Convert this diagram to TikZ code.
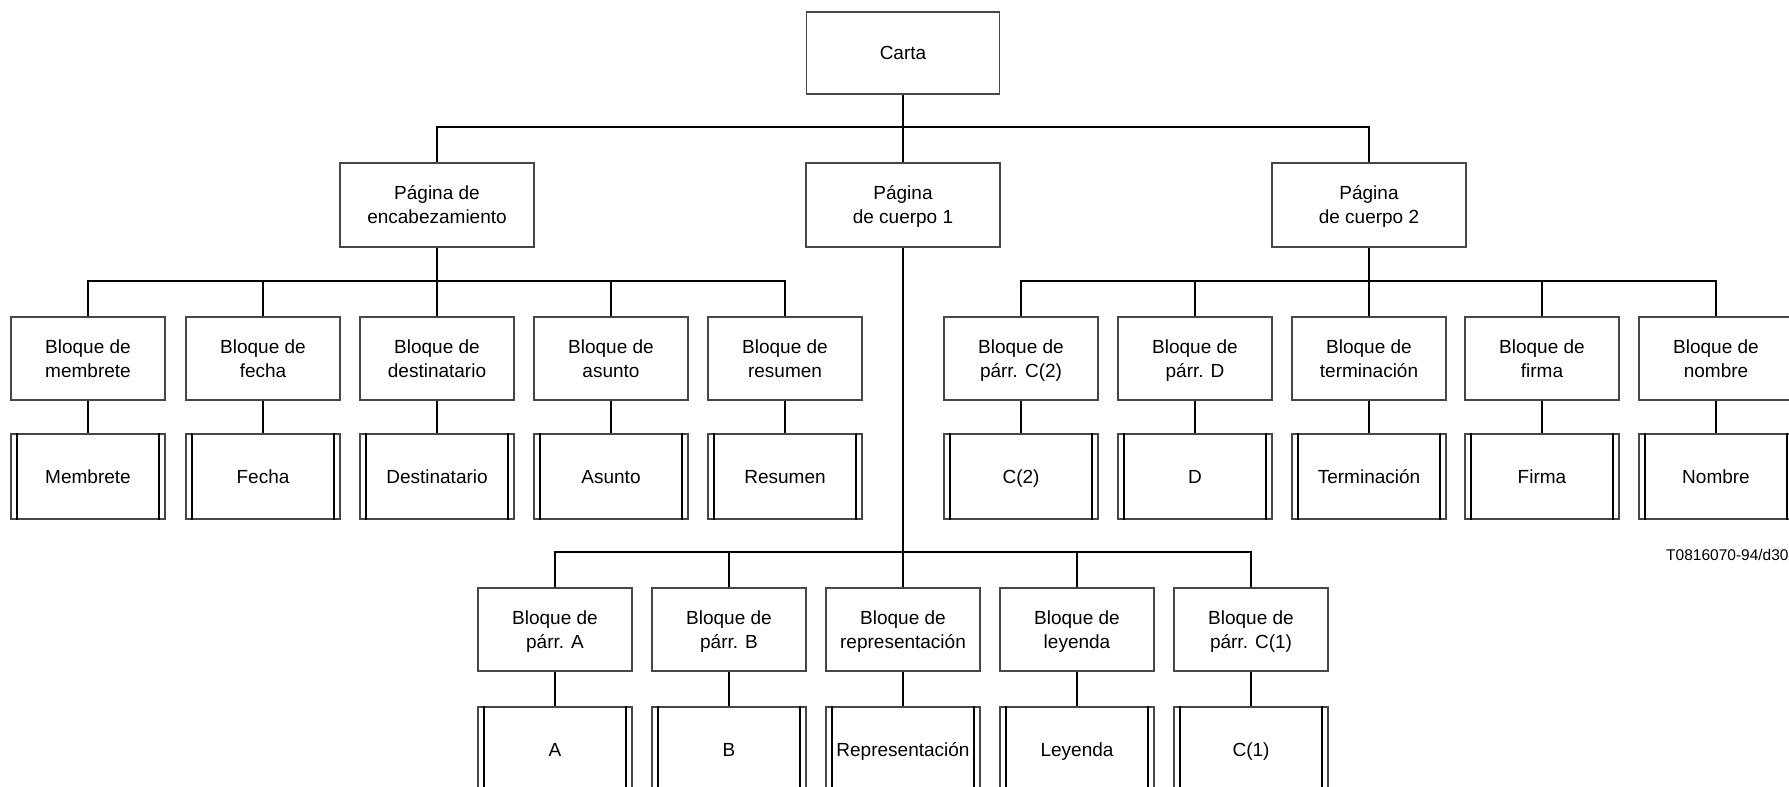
\documentclass[tikz,border=0pt]{standalone}
\usepackage{fontspec}
\setmainfont{Liberation Sans}
\begin{document}
\begin{tikzpicture}[x=1pt,y=-1pt,
  every node/.style={font=\fontsize{19}{24}\selectfont, align=center, inner sep=0pt},
  frame/.style={draw=black!72, line width=1.1pt, minimum width=154pt},
  blk/.style={frame, minimum height=83pt, text depth=-5pt},
  pagebox/.style={frame, minimum width=194pt, minimum height=84pt, text depth=-2pt},
  rootbox/.style={frame, minimum width=193pt, minimum height=82pt, text height=13.6pt, text depth=0pt},
  leafbox/.style={frame, minimum height=85pt, text height=13.6pt, text depth=-3pt},
  conn/.style={line width=2pt, black},
  rule/.style={line width=2pt, black}]
\useasboundingbox (0,0) rectangle (1789,787);
\clip (0,0) rectangle (1789,787);

% root and pages
\node[rootbox] (carta) at (903,53) {Carta};
\node[pagebox] (enc) at (437,205) {Página de\\encabezamiento};
\node[pagebox] (cp1) at (903,205) {Página\\de cuerpo 1};
\node[pagebox] (cp2) at (1369,205) {Página\\de cuerpo 2};

% blocks of the heading page
\node[blk] (bmem) at (88,358.5)  {Bloque de\\membrete};
\node[blk] (bfec) at (263,358.5) {Bloque de\\fecha};
\node[blk] (bdes) at (437,358.5) {Bloque de\\destinatario};
\node[blk] (basu) at (611,358.5) {Bloque de\\asunto};
\node[blk] (bres) at (785,358.5) {Bloque de\\resumen};

% blocks of body page 2
\node[blk] (bc2)  at (1021,358.5) {Bloque de\\párr. C(2)};
\node[blk] (bd)   at (1195,358.5) {Bloque de\\párr. D};
\node[blk] (bter) at (1369,358.5) {Bloque de\\terminación};
\node[blk] (bfir) at (1542,358.5) {Bloque de\\firma};
\node[blk] (bnom) at (1716,358.5) {Bloque de\\nombre};

% blocks of body page 1
\node[blk] (ba)   at (555,629.5)  {Bloque de\\párr. A};
\node[blk] (bb)   at (729,629.5)  {Bloque de\\párr. B};
\node[blk] (brep) at (903,629.5)  {Bloque de\\representación};
\node[blk] (bley) at (1077,629.5) {Bloque de\\leyenda};
\node[blk] (bc1)  at (1251,629.5) {Bloque de\\párr. C(1)};

% contents
\node[leafbox] (lmem) at (88,476.5)   {Membrete};
\node[leafbox] (lfec) at (263,476.5)  {Fecha};
\node[leafbox] (ldes) at (437,476.5)  {Destinatario};
\node[leafbox] (lasu) at (611,476.5)  {Asunto};
\node[leafbox] (lres) at (785,476.5)  {Resumen};
\node[leafbox] (lc2)  at (1021,476.5) {C(2)};
\node[leafbox] (ld)   at (1195,476.5) {D};
\node[leafbox] (lter) at (1369,476.5) {Terminación};
\node[leafbox] (lfir) at (1542,476.5) {Firma};
\node[leafbox] (lnom) at (1716,476.5) {Nombre};
\node[leafbox] (la)   at (555,749.5)  {A};
\node[leafbox] (lb)   at (729,749.5)  {B};
\node[leafbox] (lrep) at (903,749.5)  {Representación};
\node[leafbox] (lley) at (1077,749.5) {Leyenda};
\node[leafbox] (lc1)  at (1251,749.5) {C(1)};

% double side bars of the content boxes
\foreach \n in {lmem,lfec,ldes,lasu,lres,lc2,ld,lter,lfir,lnom,la,lb,lrep,lley,lc1}{
  \draw[rule] ([xshift=7pt]\n.north west) -- ([xshift=7pt]\n.south west);
  \draw[rule] ([xshift=-7pt]\n.north east) -- ([xshift=-7pt]\n.south east);
}

% tree connectors: each child rises 35pt to its bus, then joins the parent
\foreach \c in {enc,cp1,cp2}
  \draw[conn] (\c.north) -- ++(0,-35) -| (carta.south);
\foreach \c in {bmem,bfec,bdes,basu,bres}
  \draw[conn] (\c.north) -- ++(0,-35) -| (enc.south);
\foreach \c in {bc2,bd,bter,bfir,bnom}
  \draw[conn] (\c.north) -- ++(0,-35) -| (cp2.south);
\foreach \c in {ba,bb,brep,bley,bc1}
  \draw[conn] (\c.north) -- ++(0,-35) -| (cp1.south);

% block to content
\foreach \b/\l in {bmem/lmem,bfec/lfec,bdes/ldes,basu/lasu,bres/lres,
                   bc2/lc2,bd/ld,bter/lter,bfir/lfir,bnom/lnom,
                   ba/la,bb/lb,brep/lrep,bley/lley,bc1/lc1}
  \draw[conn] (\b.south) -- (\l.north);

\node[anchor=west, font=\fontsize{15.5}{19}\selectfont] (code) at (1666,555) {T0816070-94/d30};
\end{tikzpicture}
\end{document}
